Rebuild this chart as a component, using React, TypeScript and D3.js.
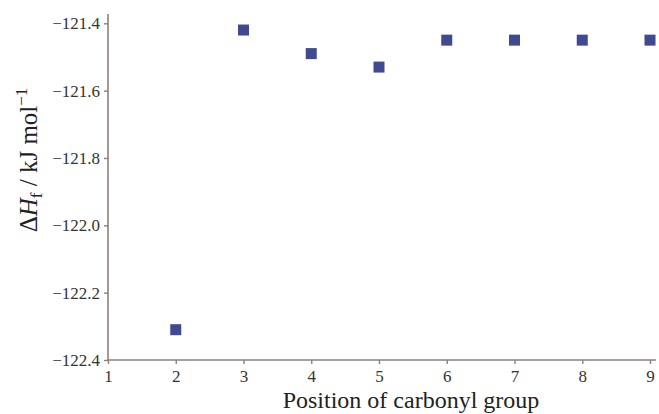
import React, { useEffect, useRef } from "react";
import * as d3 from "d3";

const positions = [2, 3, 4, 5, 6, 7, 8, 9];
const enthalpy = [-122.31, -121.42, -121.49, -121.53, -121.45, -121.45, -121.45, -121.45];
const xTicks = [1, 2, 3, 4, 5, 6, 7, 8, 9];
const yTicks = [-122.4, -122.2, -122.0, -121.8, -121.6, -121.4];

const W = 659;
const H = 414;
const FONT = "'Liberation Serif', serif";

const App = () => {
  const ref = useRef<SVGSVGElement>(null);

  useEffect(() => {
    const svg = d3.select(ref.current);
    svg.selectAll("*").remove();

    const x = d3.scaleLinear().domain([1, 9]).range([108, 650]);
    const y = d3.scaleLinear().domain([-122.4, -121.4]).range([360, 23.3]);
    const axisColor = "#8c817a";

    // x axis
    const gx = svg.append("g").attr("transform", `translate(0,${y(-122.4)})`);
    gx.call(
      d3.axisBottom(x).tickValues(xTicks).tickSize(4).tickSizeOuter(0).tickFormat(d3.format("d"))
    );
    gx.select(".domain").remove();
    gx.append("line").attr("x1", x(1)).attr("x2", 656).attr("stroke", axisColor).attr("stroke-width", 1.6);
    gx.selectAll(".tick line").attr("stroke", axisColor).attr("stroke-width", 1.4);
    gx.selectAll(".tick text")
      .attr("y", 10)
      .attr("fill", "#333")
      .style("font-family", FONT)
      .style("font-size", "17px");

    // y axis
    const gy = svg.append("g").attr("transform", `translate(${x(1)},0)`);
    gy.call(
      d3.axisLeft(y).tickValues(yTicks).tickSize(4).tickSizeOuter(0)
        .tickFormat((d) => d3.format(".1f")(d as number).replace("-", "\u2212"))
    );
    gy.select(".domain").remove();
    gy.append("line").attr("y1", 14).attr("y2", y(-122.4)).attr("stroke", axisColor).attr("stroke-width", 1.6);
    gy.selectAll(".tick line").attr("stroke", axisColor).attr("stroke-width", 1.4);
    gy.selectAll(".tick text")
      .attr("x", -8)
      .attr("fill", "#333")
      .style("font-family", FONT)
      .style("font-size", "17px");

    // points
    const s = 11;
    svg.append("g")
      .selectAll("rect")
      .data(positions.map((p, i) => ({ p, v: enthalpy[i] })))
      .enter()
      .append("rect")
      .attr("x", (d) => x(d.p) - s / 2)
      .attr("y", (d) => y(d.v) - s / 2)
      .attr("width", s)
      .attr("height", s)
      .attr("fill", "#3f4a90");

    // axis titles
    svg.append("text")
      .attr("x", 411)
      .attr("y", 408)
      .attr("text-anchor", "middle")
      .attr("fill", "#222")
      .style("font-family", FONT)
      .style("font-size", "24px")
      .text("Position of carbonyl group");

    const yl = svg.append("text")
      .attr("transform", "translate(37,160) rotate(-90)")
      .attr("text-anchor", "middle")
      .attr("fill", "#222")
      .style("font-family", FONT)
      .style("font-size", "25px");
    yl.append("tspan").text("\u0394");
    yl.append("tspan").style("font-style", "italic").text("H");
    yl.append("tspan").attr("dy", 5).style("font-size", "17px").text("f");
    yl.append("tspan").attr("dy", -5).text(" / kJ mol");
    yl.append("tspan").attr("dy", -10).style("font-size", "17px").text("\u22121");
  }, []);

  return (
    <svg
      ref={ref}
      width={W}
      height={H}
      style={{ position: "absolute", left: 0, top: 0, background: "#fff" }}
    />
  );
};

export default App;
